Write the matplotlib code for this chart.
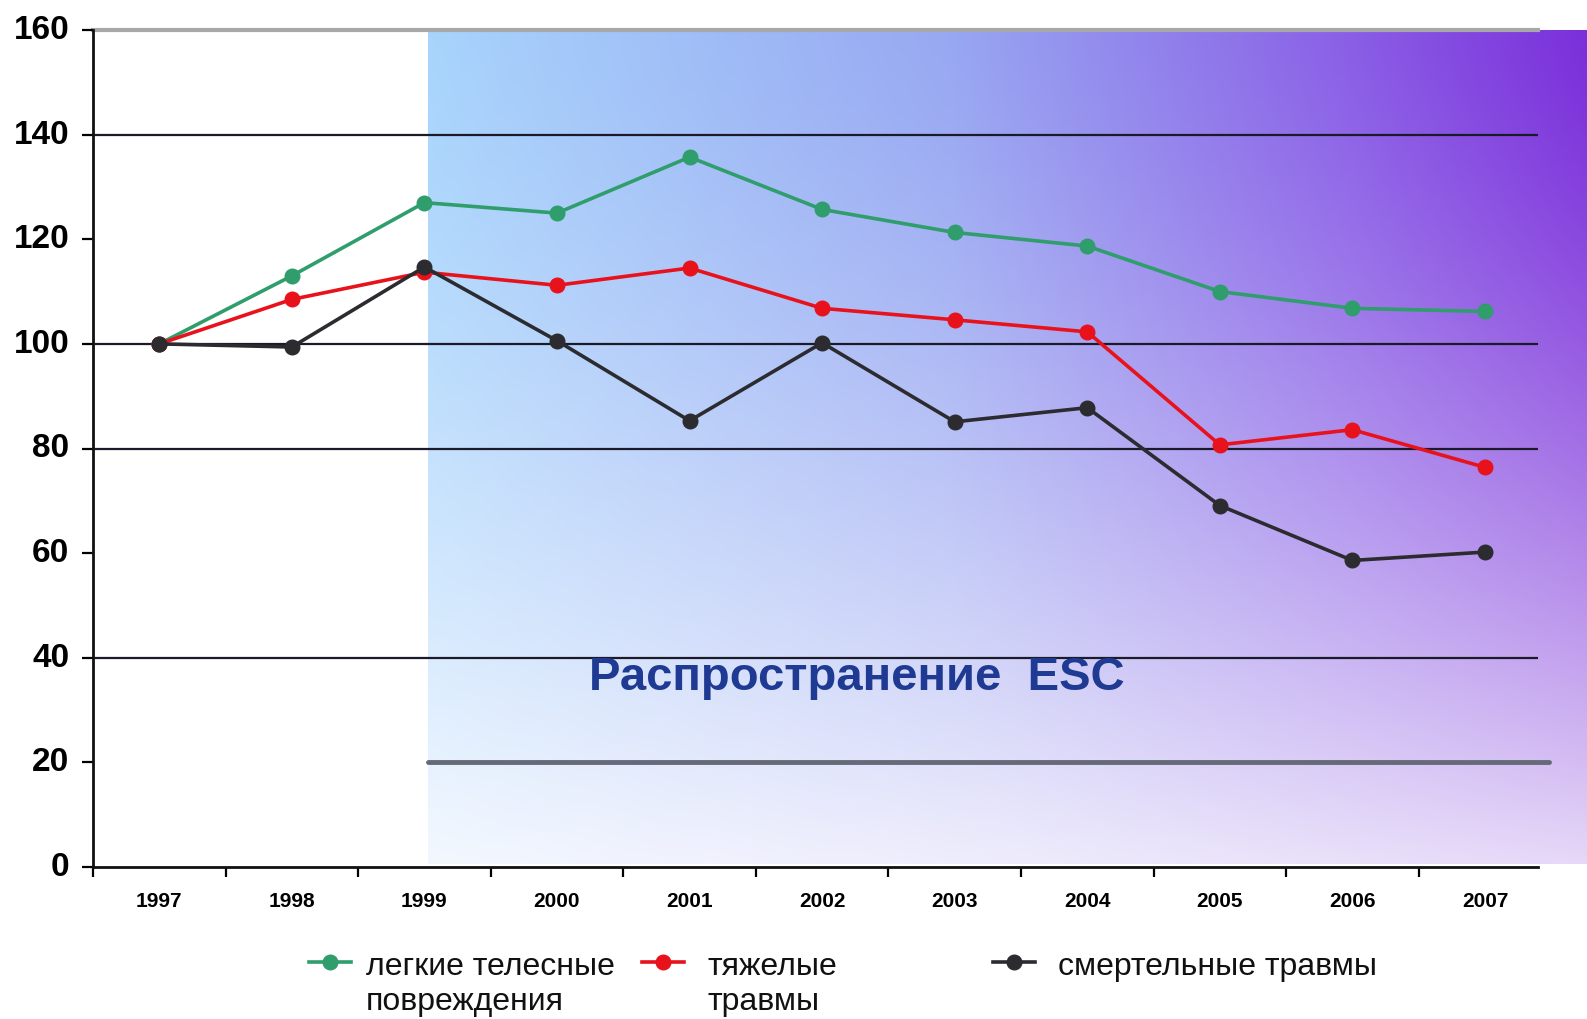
import matplotlib
matplotlib.use('Agg')
import matplotlib.pyplot as plt
import matplotlib.transforms as mtransforms
import numpy as np
from matplotlib.lines import Line2D
from matplotlib.colors import to_rgb

plt.rcParams['font.family'] = ['Liberation Sans', 'DejaVu Sans']

# data (index, 1997 = 100)
years = ['1997', '1998', '1999', '2000', '2001', '2002', '2003', '2004', '2005', '2006', '2007']
light_injuries = [100, 113, 127, 125, 135.7, 125.7, 121.3, 118.7, 110, 106.8, 106.2]
severe_injuries = [100, 108.5, 113.7, 111.2, 114.5, 106.8, 104.6, 102.3, 80.7, 83.6, 76.4]
fatal_injuries = [100, 99.4, 114.7, 100.6, 85.3, 100.2, 85.1, 87.8, 69.1, 58.6, 60.2]
labels = ['легкие телесные\nповреждения', 'тяжелые\nтравмы', 'смертельные травмы']
colors = ['#2f9d6c', '#e8121c', '#2b2b30']
esc_start = 2.03  # ESC spread starts just after 1999
y_ticks = [0, 20, 40, 60, 80, 100, 120, 140, 160]

W, H = 1587, 1020
fig = plt.figure(figsize=(W / 100, H / 100), dpi=100)
ax = fig.add_axes([93 / W, 1 - 868 / H, (1538 - 93) / W, (868 - 31) / H])

x = np.arange(len(years))
xmin, xmax = -0.5, 10.4
x_fig_right = xmin + (W - 93) / ((1538 - 93) / (xmax - xmin))

# background gradient (light blue -> purple, fading to white at the bottom)
nx, ny = 300, 200
u = np.linspace(0, 1, nx)
v = np.linspace(0, 1, ny)[:, None]
top_stops = [(0.0, '#a8d4fc'), (0.45, '#98a8f2'), (0.8, '#8a5ee6'), (1.0, '#7b30da')]
bot_stops = [(0.0, '#f3f8ff'), (0.5, '#eeecfc'), (1.0, '#e6d8f8')]

def ramp(stops):
    pos = [p for p, _ in stops]
    cols = np.array([to_rgb(c) for _, c in stops])
    return np.stack([np.interp(u, pos, cols[:, k]) for k in range(3)], axis=-1)

top = ramp(top_stops)[None, :, :]
bot = ramp(bot_stops)[None, :, :]
w = (v ** 1.4)[:, :, None]
img = top * (1 - w) + bot * w
ax.imshow(img, extent=[esc_start, x_fig_right, 0.6, 160], aspect='auto',
          origin='upper', clip_on=False, zorder=0, interpolation='bilinear')

# grid lines
for yv in [140, 100, 80, 40]:
    ax.axhline(yv, color='#1a1a2a', lw=1.6, zorder=1)
ax.plot([xmin, xmax], [160, 160], color='#a8a8a8', lw=3, zorder=1, clip_on=False)
ax.plot([esc_start, 10.48], [20, 20], color='#666a78', lw=3.5, zorder=1,
        clip_on=False, solid_capstyle='round')

series = [light_injuries, severe_injuries, fatal_injuries]
for vals, c in zip(series, colors):
    ax.plot(x, vals, color=c, lw=2.6, marker='o', ms=10.5, zorder=3)

ax.text(5.26, 36.3, 'Распространение  ESC', color='#1e3a92', fontsize=34,
        fontweight='bold', ha='center', va='center', zorder=4)

ax.set_xlim(xmin, xmax)
ax.set_ylim(0, 160)
ax.set_xticks(x)
ax.set_xticklabels(years, fontsize=15, fontweight='bold')
ax.set_xticks(np.arange(-0.5, 10.5, 1.0), minor=True)
ax.tick_params(axis='x', which='major', length=0, pad=17)
ax.tick_params(axis='x', which='minor', length=7, width=1.6, direction='out')
ax.set_yticks(y_ticks)
ax.set_yticklabels([str(t) for t in y_ticks], fontsize=24, fontweight='bold')
ax.tick_params(axis='y', length=8, width=1.6, direction='out', pad=9)
lift = mtransforms.ScaledTranslation(0, 4 / 100, fig.dpi_scale_trans)
for lbl in ax.get_yticklabels():
    lbl.set_transform(lbl.get_transform() + lift)

for s in ['top', 'right']:
    ax.spines[s].set_visible(False)
for s in ['left', 'bottom']:
    ax.spines[s].set_linewidth(2)
    ax.spines[s].set_color('#111111')
ax.patch.set_visible(False)

# legend below the chart
leg_items = [(309, 366), (642, 708), (993, 1058)]
for (hx, tx), lab, c in zip(leg_items, labels, colors):
    fig.add_artist(Line2D([hx / W, (hx + 42) / W], [1 - 963 / H, 1 - 963 / H],
                          color=c, lw=2.6, transform=fig.transFigure))
    fig.add_artist(Line2D([(hx + 21) / W], [1 - 963 / H], color=c, marker='o',
                          ms=10.5, transform=fig.transFigure))
    fig.text(tx / W, 1 - 952 / H, lab, fontsize=23, va='top', ha='left',
             linespacing=1.2, color='#111111')

fig.savefig('out.png', dpi=100)
